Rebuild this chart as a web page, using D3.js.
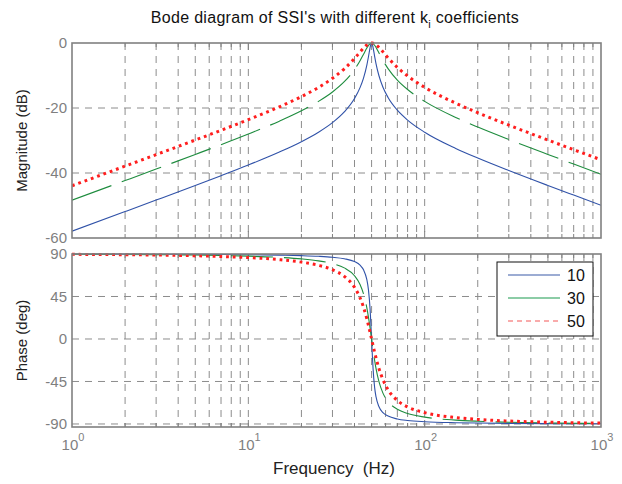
<!DOCTYPE html>
<html><head><meta charset="utf-8">
<script src="https://cdn.jsdelivr.net/npm/d3@7"></script>
<style>
html,body{margin:0;padding:0;background:#fff;}
svg{display:block;font-family:"Liberation Sans",Arial,sans-serif;}
</style></head>
<body>
<svg id="chart" width="622" height="484"></svg>
<script>
// ---- data ----
const freq = [1,2,3,5,7,10,15,20,25,30,35,40,43,45,47,48,49,49.5,50,50.5,51,52,53,55,58,62,70,80,100,150,200,300,500,700,1000];
const seriesNames = ["10","30","50"];
const mag10 = [-57.90,-51.87,-48.33,-43.84,-40.83,-37.55,-33.56,-30.37,-27.45,-24.50,-21.21,-17.07,-13.73,-10.79,-6.80,-4.23,-1.47,-0.41,0,-0.40,-1.42,-4.01,-6.39,-10.00,-13.60,-16.76,-20.68,-23.72,-27.45,-32.44,-35.40,-39.24,-43.84,-46.80,-49.92];
const mag30 = [-48.36,-42.33,-38.79,-34.29,-31.29,-28.01,-24.04,-20.86,-17.97,-15.08,-11.92,-8.16,-5.46,-3.47,-1.52,-0.73,-0.19,-0.05,0,-0.05,-0.18,-0.68,-1.38,-3.01,-5.36,-7.89,-11.43,-14.32,-17.97,-22.92,-25.87,-29.70,-34.29,-37.26,-40.38];
const mag50 = [-43.92,-37.89,-34.35,-29.86,-26.86,-23.59,-19.63,-16.49,-13.66,-10.87,-7.95,-4.77,-2.80,-1.58,-0.61,-0.28,-0.07,-0.02,0,-0.02,-0.07,-0.26,-0.55,-1.33,-2.73,-4.56,-7.51,-10.16,-13.66,-18.52,-21.45,-25.27,-29.86,-32.82,-35.94];
const ph10 = [89.93,89.85,89.78,89.63,89.48,89.24,88.80,88.26,87.57,86.58,85.01,81.95,78.13,73.22,62.79,52.06,32.40,17.52,0,-17.36,-31.89,-50.94,-61.37,-71.56,-77.94,-81.65,-84.70,-86.26,-87.57,-88.63,-89.03,-89.37,-89.63,-89.74,-89.82];
const ph30 = [89.78,89.56,89.34,88.89,88.44,87.72,86.40,84.80,82.74,79.85,75.31,67.00,57.76,47.86,32.96,23.15,11.95,6.01,0,-5.95,-11.72,-22.33,-31.40,-44.99,-57.34,-66.22,-74.44,-78.92,-82.74,-85.90,-87.08,-88.12,-88.89,-89.21,-89.45];
const ph50 = [89.64,89.27,88.90,88.16,87.40,86.21,84.01,81.38,78.02,73.38,66.40,54.73,43.57,33.55,21.26,14.39,7.23,3.61,0,-3.58,-7.09,-13.85,-20.12,-30.96,-43.11,-53.71,-65.10,-71.92,-78.02,-83.19,-85.15,-86.88,-88.16,-88.69,-89.09];
const xTickExps = [0,1,2,3];
const magTicks = [0,-20,-40,-60];
const phaseTicks = [90,45,0,-45,-90];

// ---- layout ----
const L = 72, R = 601;
const magTop = 43, magBot = 238;
const phTop = 254, phBot = 427;
const svg = d3.select("#chart");

const x = d3.scaleLog().domain([1,1000]).range([L,R]);
const yMag = d3.scaleLinear().domain([-60,0]).range([magBot,magTop]);
const yPh = d3.scaleLinear().domain([-93.2,90]).range([phBot,phTop]);

const gridColor = "#8c8c8c";
const axisColor = "#808080";
const tickText = "#7f7f7f";

const minorVals = [];
[1,10,100].forEach(d => { for (let m=1;m<=9;m++){ const v=d*m; if (v>1 && v<1000) minorVals.push(v);} });

const defs = svg.append("defs");
defs.append("clipPath").attr("id","clipMag").append("rect").attr("x",L).attr("y",magTop-2).attr("width",R-L).attr("height",magBot-magTop+2);
defs.append("clipPath").attr("id","clipPh").append("rect").attr("x",L).attr("y",phTop-2).attr("width",R-L).attr("height",phBot-phTop+2);

function panel(top, bot, yScale, hTicks) {
  const g = svg.append("g");
  g.selectAll(".vg").data(minorVals).enter().append("line")
    .attr("x1",d=>x(d)).attr("x2",d=>x(d)).attr("y1",top).attr("y2",bot)
    .attr("stroke",gridColor).attr("stroke-width",1).attr("stroke-dasharray","7,6");
  g.selectAll(".hg").data(hTicks.filter(t=>yScale(t)>top+1 && yScale(t)<bot-1)).enter().append("line")
    .attr("x1",L).attr("x2",R).attr("y1",d=>yScale(d)).attr("y2",d=>yScale(d))
    .attr("stroke",gridColor).attr("stroke-width",1).attr("stroke-dasharray","7,6");
  minorVals.forEach(v => {
    const major = [10,100].includes(v);
    const len = major ? 7 : 4;
    g.append("line").attr("x1",x(v)).attr("x2",x(v)).attr("y1",top).attr("y2",top+len).attr("stroke",axisColor);
    g.append("line").attr("x1",x(v)).attr("x2",x(v)).attr("y1",bot).attr("y2",bot-len).attr("stroke",axisColor);
  });
  g.selectAll(".yl").data(hTicks).enter().append("text")
    .attr("x",L-5).attr("y",d=>yScale(d)).attr("dy","0.36em")
    .attr("text-anchor","end").attr("font-size",15).attr("fill",tickText).text(d=>d);
  return g;
}

const gMag = panel(magTop, magBot, yMag, magTicks);
const gPh = panel(phTop, phBot, yPh, phaseTicks);

const styles = [
  {name:"10", color:"#3052a8", width:1.1, dash:null},
  {name:"30", color:"#1e8c3e", width:1.1, dash:"42,11"},
  {name:"50", color:"#ff1e1e", width:3, dash:"2.8,3.9"}
];
const magData = [mag10, mag30, mag50];
const phData = [ph10, ph30, ph50];

function drawLines(g, yScale, data, clipId) {
  const cg = g.append("g").attr("clip-path",`url(#${clipId})`);
  data.forEach((arr, i) => {
    const pts = freq.map((f,j)=>[f, arr[j]]);
    const line = d3.line().x(d=>x(d[0])).y(d=>yScale(d[1])).curve(d3.curveMonotoneX);
    const p = cg.append("path").datum(pts).attr("d",line)
      .attr("fill","none").attr("stroke",styles[i].color).attr("stroke-width",styles[i].width)
      .attr("stroke-linejoin","round");
    if (styles[i].dash) p.attr("stroke-dasharray",styles[i].dash);
  });
}
drawLines(gMag, yMag, magData, "clipMag");
drawLines(gPh, yPh, phData, "clipPh");

[[magTop,magBot],[phTop,phBot]].forEach(([t,b]) => {
  svg.append("rect").attr("x",L).attr("y",t).attr("width",R-L).attr("height",b-t)
    .attr("fill","none").attr("stroke",axisColor).attr("stroke-width",1.6);
});

xTickExps.forEach(e => {
  const t = svg.append("text").attr("x",x(Math.pow(10,e))+1).attr("y",phBot+23)
    .attr("text-anchor","middle").attr("font-size",15).attr("fill",tickText);
  t.append("tspan").text("10");
  t.append("tspan").attr("dy",-9).attr("font-size",11).text(e);
});

svg.append("text").attr("x",334).attr("y",474).attr("text-anchor","middle")
  .attr("font-size",17).attr("fill","#222").style("white-space","pre").text("Frequency  (Hz)");
svg.append("text").attr("transform",`translate(27,${(magTop+magBot)/2}) rotate(-90)`)
  .attr("text-anchor","middle").attr("font-size",15).attr("fill","#222").text("Magnitude (dB)");
svg.append("text").attr("transform",`translate(27,${(phTop+phBot)/2}) rotate(-90)`)
  .attr("text-anchor","middle").attr("font-size",15).attr("fill","#222").text("Phase (deg)");

const title = svg.append("text").attr("x",335).attr("y",23).attr("text-anchor","middle")
  .attr("font-size",16).attr("fill","#111").attr("letter-spacing",0.3);
title.append("tspan").text("Bode diagram of SSI's with different k");
title.append("tspan").attr("dy",5).attr("font-size",11).text("i");
title.append("tspan").attr("dy",-5).text(" coefficients");

const lg = svg.append("g");
lg.append("rect").attr("x",497).attr("y",262).attr("width",96).attr("height",74)
  .attr("fill","#fff").attr("stroke","#111").attr("stroke-width",1);
const legendStyles = [
  {color:"#3a5aa8", dash:null, width:1.2},
  {color:"#66bb88", dash:null, width:1.6},
  {color:"#f79090", dash:"5,4", width:1.6}
];
seriesNames.forEach((n,i) => {
  const yy = 275 + i*23;
  lg.append("line").attr("x1",508).attr("x2",560).attr("y1",yy).attr("y2",yy)
    .attr("stroke",legendStyles[i].color).attr("stroke-width",legendStyles[i].width)
    .attr("stroke-dasharray",legendStyles[i].dash);
  lg.append("text").attr("x",567).attr("y",yy).attr("dy","0.36em").attr("font-size",16)
    .attr("fill","#111").text(n);
});
</script>
</body></html>
